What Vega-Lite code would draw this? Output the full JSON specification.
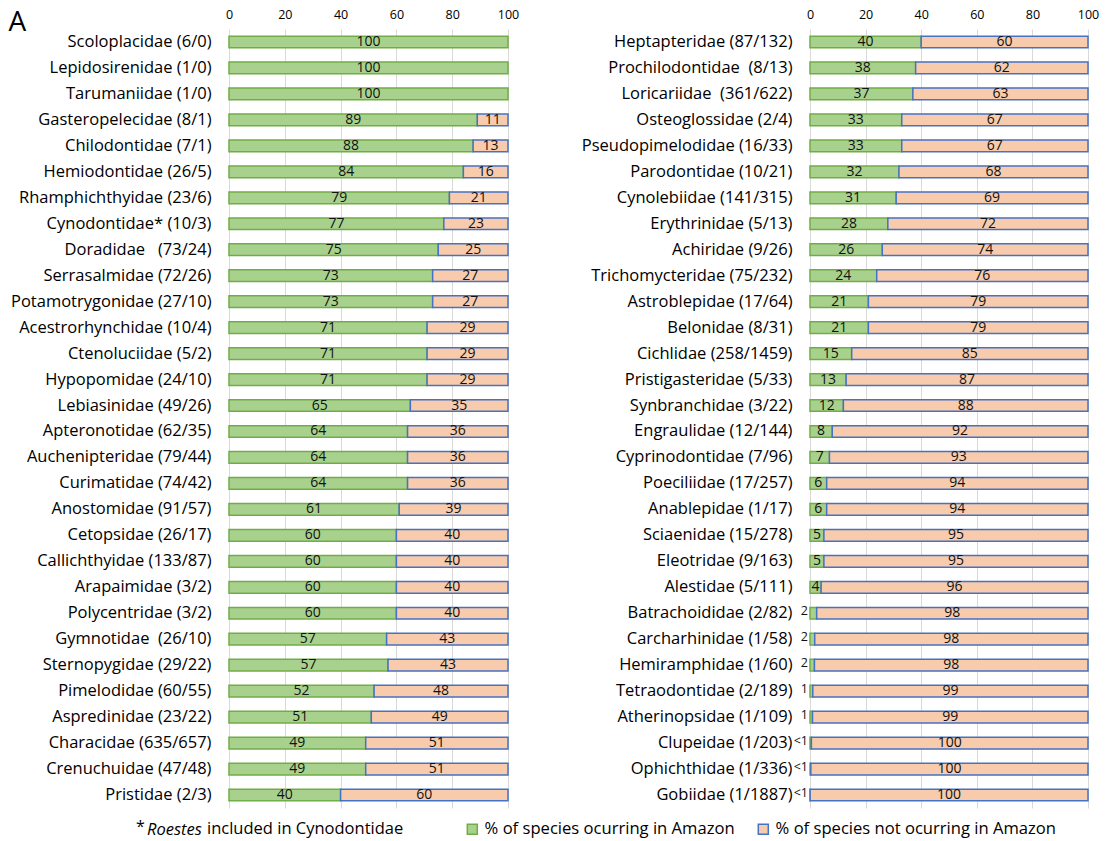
{
  "$schema": "https://vega.github.io/schema/vega-lite/v6.json",
  "padding": {"left": 8, "top": 8, "right": 10, "bottom": 5},
  "background": "white",
  "title": {"text": "Roestes", "orient": "bottom", "anchor": "start", "frame": "group", "dx": -82, "dy": -16, "offset": 0, "baseline": "top", "fontSize": 16.5, "fontStyle": "italic", "fontWeight": "normal", "color": "#000"},
  "config": {
    "font": "Open Sans",
    "view": {"stroke": null},
    "axisX": {"orient": "top", "values": [0, 20, 40, 60, 80, 100], "title": null, "domain": false, "ticks": false, "labelPadding": 8, "labelFontSize": 12.5, "labelColor": "#000", "labelFlush": false, "grid": true, "gridColor": "#d9d9d9", "gridWidth": 1},
    "axisY": {"domain": false, "ticks": false, "labelPadding": 18, "labelFontSize": 16.5, "labelColor": "#000", "labelLimit": 400, "grid": false},
    "title": {"fontWeight": "normal", "color": "#000"}
  },
  "datasets": {
    "left": [
      {"f": "Scoloplacidae (6/0)", "c": "in", "p": 100, "l": "100"},
      {"f": "Lepidosirenidae (1/0)", "c": "in", "p": 100, "l": "100"},
      {"f": "Tarumaniidae (1/0)", "c": "in", "p": 100, "l": "100"},
      {"f": "Gasteropelecidae (8/1)", "c": "in", "p": 89, "l": "89"},
      {"f": "Gasteropelecidae (8/1)", "c": "out", "p": 11, "l": "11"},
      {"f": "Chilodontidae (7/1)", "c": "in", "p": 87.5, "l": "88"},
      {"f": "Chilodontidae (7/1)", "c": "out", "p": 12.5, "l": "13"},
      {"f": "Hemiodontidae (26/5)", "c": "in", "p": 84, "l": "84"},
      {"f": "Hemiodontidae (26/5)", "c": "out", "p": 16, "l": "16"},
      {"f": "Rhamphichthyidae (23/6)", "c": "in", "p": 79, "l": "79"},
      {"f": "Rhamphichthyidae (23/6)", "c": "out", "p": 21, "l": "21"},
      {"f": "Cynodontidae* (10/3)", "c": "in", "p": 77, "l": "77"},
      {"f": "Cynodontidae* (10/3)", "c": "out", "p": 23, "l": "23"},
      {"f": "Doradidae\u00a0\u00a0\u00a0(73/24)", "c": "in", "p": 75, "l": "75"},
      {"f": "Doradidae\u00a0\u00a0\u00a0(73/24)", "c": "out", "p": 25, "l": "25"},
      {"f": "Serrasalmidae (72/26)", "c": "in", "p": 73, "l": "73"},
      {"f": "Serrasalmidae (72/26)", "c": "out", "p": 27, "l": "27"},
      {"f": "Potamotrygonidae (27/10)", "c": "in", "p": 73, "l": "73"},
      {"f": "Potamotrygonidae (27/10)", "c": "out", "p": 27, "l": "27"},
      {"f": "Acestrorhynchidae (10/4)", "c": "in", "p": 71, "l": "71"},
      {"f": "Acestrorhynchidae (10/4)", "c": "out", "p": 29, "l": "29"},
      {"f": "Ctenoluciidae (5/2)", "c": "in", "p": 71, "l": "71"},
      {"f": "Ctenoluciidae (5/2)", "c": "out", "p": 29, "l": "29"},
      {"f": "Hypopomidae (24/10)", "c": "in", "p": 71, "l": "71"},
      {"f": "Hypopomidae (24/10)", "c": "out", "p": 29, "l": "29"},
      {"f": "Lebiasinidae (49/26)", "c": "in", "p": 65, "l": "65"},
      {"f": "Lebiasinidae (49/26)", "c": "out", "p": 35, "l": "35"},
      {"f": "Apteronotidae (62/35)", "c": "in", "p": 64, "l": "64"},
      {"f": "Apteronotidae (62/35)", "c": "out", "p": 36, "l": "36"},
      {"f": "Auchenipteridae (79/44)", "c": "in", "p": 64, "l": "64"},
      {"f": "Auchenipteridae (79/44)", "c": "out", "p": 36, "l": "36"},
      {"f": "Curimatidae (74/42)", "c": "in", "p": 64, "l": "64"},
      {"f": "Curimatidae (74/42)", "c": "out", "p": 36, "l": "36"},
      {"f": "Anostomidae (91/57)", "c": "in", "p": 61, "l": "61"},
      {"f": "Anostomidae (91/57)", "c": "out", "p": 39, "l": "39"},
      {"f": "Cetopsidae (26/17)", "c": "in", "p": 60, "l": "60"},
      {"f": "Cetopsidae (26/17)", "c": "out", "p": 40, "l": "40"},
      {"f": "Callichthyidae (133/87)", "c": "in", "p": 60, "l": "60"},
      {"f": "Callichthyidae (133/87)", "c": "out", "p": 40, "l": "40"},
      {"f": "Arapaimidae (3/2)", "c": "in", "p": 60, "l": "60"},
      {"f": "Arapaimidae (3/2)", "c": "out", "p": 40, "l": "40"},
      {"f": "Polycentridae (3/2)", "c": "in", "p": 60, "l": "60"},
      {"f": "Polycentridae (3/2)", "c": "out", "p": 40, "l": "40"},
      {"f": "Gymnotidae\u00a0\u00a0(26/10)", "c": "in", "p": 56.5, "l": "57"},
      {"f": "Gymnotidae\u00a0\u00a0(26/10)", "c": "out", "p": 43.5, "l": "43"},
      {"f": "Sternopygidae (29/22)", "c": "in", "p": 57, "l": "57"},
      {"f": "Sternopygidae (29/22)", "c": "out", "p": 43, "l": "43"},
      {"f": "Pimelodidae (60/55)", "c": "in", "p": 52, "l": "52"},
      {"f": "Pimelodidae (60/55)", "c": "out", "p": 48, "l": "48"},
      {"f": "Aspredinidae (23/22)", "c": "in", "p": 51, "l": "51"},
      {"f": "Aspredinidae (23/22)", "c": "out", "p": 49, "l": "49"},
      {"f": "Characidae (635/657)", "c": "in", "p": 49, "l": "49"},
      {"f": "Characidae (635/657)", "c": "out", "p": 51, "l": "51"},
      {"f": "Crenuchuidae (47/48)", "c": "in", "p": 49, "l": "49"},
      {"f": "Crenuchuidae (47/48)", "c": "out", "p": 51, "l": "51"},
      {"f": "Pristidae (2/3)", "c": "in", "p": 40, "l": "40"},
      {"f": "Pristidae (2/3)", "c": "out", "p": 60, "l": "60"}
    ],
    "right": [
      {"f": "Heptapteridae (87/132)", "c": "in", "p": 40, "l": "40"},
      {"f": "Heptapteridae (87/132)", "c": "out", "p": 60, "l": "60"},
      {"f": "Prochilodontidae\u00a0\u00a0(8/13)", "c": "in", "p": 38, "l": "38"},
      {"f": "Prochilodontidae\u00a0\u00a0(8/13)", "c": "out", "p": 62, "l": "62"},
      {"f": "Loricariidae\u00a0\u00a0(361/622)", "c": "in", "p": 37, "l": "37"},
      {"f": "Loricariidae\u00a0\u00a0(361/622)", "c": "out", "p": 63, "l": "63"},
      {"f": "Osteoglossidae (2/4)", "c": "in", "p": 33, "l": "33"},
      {"f": "Osteoglossidae (2/4)", "c": "out", "p": 67, "l": "67"},
      {"f": "Pseudopimelodidae (16/33)", "c": "in", "p": 33, "l": "33"},
      {"f": "Pseudopimelodidae (16/33)", "c": "out", "p": 67, "l": "67"},
      {"f": "Parodontidae (10/21)", "c": "in", "p": 32, "l": "32"},
      {"f": "Parodontidae (10/21)", "c": "out", "p": 68, "l": "68"},
      {"f": "Cynolebiidae (141/315)", "c": "in", "p": 31, "l": "31"},
      {"f": "Cynolebiidae (141/315)", "c": "out", "p": 69, "l": "69"},
      {"f": "Erythrinidae (5/13)", "c": "in", "p": 28, "l": "28"},
      {"f": "Erythrinidae (5/13)", "c": "out", "p": 72, "l": "72"},
      {"f": "Achiridae (9/26)", "c": "in", "p": 26, "l": "26"},
      {"f": "Achiridae (9/26)", "c": "out", "p": 74, "l": "74"},
      {"f": "Trichomycteridae (75/232)", "c": "in", "p": 24, "l": "24"},
      {"f": "Trichomycteridae (75/232)", "c": "out", "p": 76, "l": "76"},
      {"f": "Astroblepidae (17/64)", "c": "in", "p": 21, "l": "21"},
      {"f": "Astroblepidae (17/64)", "c": "out", "p": 79, "l": "79"},
      {"f": "Belonidae (8/31)", "c": "in", "p": 21, "l": "21"},
      {"f": "Belonidae (8/31)", "c": "out", "p": 79, "l": "79"},
      {"f": "Cichlidae (258/1459)", "c": "in", "p": 15, "l": "15"},
      {"f": "Cichlidae (258/1459)", "c": "out", "p": 85, "l": "85"},
      {"f": "Pristigasteridae (5/33)", "c": "in", "p": 13, "l": "13"},
      {"f": "Pristigasteridae (5/33)", "c": "out", "p": 87, "l": "87"},
      {"f": "Synbranchidae (3/22)", "c": "in", "p": 12, "l": "12"},
      {"f": "Synbranchidae (3/22)", "c": "out", "p": 88, "l": "88"},
      {"f": "Engraulidae (12/144)", "c": "in", "p": 8, "l": "8"},
      {"f": "Engraulidae (12/144)", "c": "out", "p": 92, "l": "92"},
      {"f": "Cyprinodontidae (7/96)", "c": "in", "p": 7, "l": "7"},
      {"f": "Cyprinodontidae (7/96)", "c": "out", "p": 93, "l": "93"},
      {"f": "Poeciliidae (17/257)", "c": "in", "p": 6, "l": "6"},
      {"f": "Poeciliidae (17/257)", "c": "out", "p": 94, "l": "94"},
      {"f": "Anablepidae (1/17)", "c": "in", "p": 6, "l": "6"},
      {"f": "Anablepidae (1/17)", "c": "out", "p": 94, "l": "94"},
      {"f": "Sciaenidae (15/278)", "c": "in", "p": 5, "l": "5"},
      {"f": "Sciaenidae (15/278)", "c": "out", "p": 95, "l": "95"},
      {"f": "Eleotridae (9/163)", "c": "in", "p": 5, "l": "5"},
      {"f": "Eleotridae (9/163)", "c": "out", "p": 95, "l": "95"},
      {"f": "Alestidae (5/111)", "c": "in", "p": 4, "l": "4"},
      {"f": "Alestidae (5/111)", "c": "out", "p": 96, "l": "96"},
      {"f": "Batrachoididae (2/82)", "c": "in", "p": 2.4, "l": "2"},
      {"f": "Batrachoididae (2/82)", "c": "out", "p": 97.6, "l": "98"},
      {"f": "Carcharhinidae (1/58)", "c": "in", "p": 1.7, "l": "2"},
      {"f": "Carcharhinidae (1/58)", "c": "out", "p": 98.3, "l": "98"},
      {"f": "Hemiramphidae (1/60)", "c": "in", "p": 1.6, "l": "2"},
      {"f": "Hemiramphidae (1/60)", "c": "out", "p": 98.4, "l": "98"},
      {"f": "Tetraodontidae (2/189)", "c": "in", "p": 1, "l": "1"},
      {"f": "Tetraodontidae (2/189)", "c": "out", "p": 99, "l": "99"},
      {"f": "Atherinopsidae (1/109)", "c": "in", "p": 0.9, "l": "1"},
      {"f": "Atherinopsidae (1/109)", "c": "out", "p": 99.1, "l": "99"},
      {"f": "Clupeidae (1/203)", "c": "in", "p": 0.5, "l": "<1"},
      {"f": "Clupeidae (1/203)", "c": "out", "p": 99.5, "l": "100"},
      {"f": "Ophichthidae (1/336)", "c": "in", "p": 0.3, "l": "<1"},
      {"f": "Ophichthidae (1/336)", "c": "out", "p": 99.7, "l": "100"},
      {"f": "Gobiidae (1/1887)", "c": "in", "p": 0.05, "l": "<1"},
      {"f": "Gobiidae (1/1887)", "c": "out", "p": 99.95, "l": "100"}
    ]
  },
  "spacing": 62,
  "hconcat": [
    {
      "data": {"name": "left"},
      "width": 279,
      "height": 779,
      "title": {"text": "*", "orient": "bottom", "anchor": "start", "frame": "group", "dx": -93, "offset": 11, "baseline": "top", "fontSize": 16, "fontWeight": "normal"},
      "encoding": {
        "y": {"field": "f", "type": "nominal", "sort": null, "scale": {"paddingInner": 0.55, "paddingOuter": 0.275},
          "axis": {"title": "A", "titleAngle": 0, "titleX": -221, "titleY": 1, "titleAlign": "left", "titleBaseline": "alphabetic", "titleFontSize": 28, "titleFontWeight": "normal", "titleColor": "#000"}}
      },
      "layer": [
        {
          "mark": {"type": "bar", "strokeWidth": 1.5},
          "encoding": {
            "x": {"field": "p", "type": "quantitative", "stack": "zero", "scale": {"domain": [0, 100]}},
            "color": {"field": "c", "type": "nominal", "scale": {"domain": ["in", "out"], "range": ["#a9d18e", "#f8cbad"]},
              "legend": {"title": "included in Cynodontidae", "titleOrient": "left", "titleFontSize": 16.5, "titleFontWeight": "normal", "titleColor": "#000", "titleLimit": 500, "titlePadding": 60, "titleBaseline": "middle", "orient": "none", "legendX": -22, "legendY": 792, "direction": "horizontal", "labelFontSize": 16.6, "labelColor": "#000", "labelLimit": 500, "labelOffset": 4, "symbolType": "square", "symbolSize": 100, "symbolStrokeWidth": 1.5, "columnPadding": 20, "labelExpr": "datum.value == 'in' ? '% of species ocurring in Amazon' : '% of species not ocurring in Amazon'"}},
            "stroke": {"field": "c", "type": "nominal", "scale": {"domain": ["in", "out"], "range": ["#70ad47", "#4472c4"]},
              "legend": {"title": "included in Cynodontidae", "titleOrient": "left", "titleFontSize": 16.5, "titleFontWeight": "normal", "titleColor": "#000", "titleLimit": 500, "titlePadding": 60, "titleBaseline": "middle", "orient": "none", "legendX": -22, "legendY": 792, "direction": "horizontal", "labelFontSize": 16.6, "labelColor": "#000", "labelLimit": 500, "labelOffset": 4, "symbolType": "square", "symbolSize": 100, "symbolStrokeWidth": 1.5, "columnPadding": 20, "labelExpr": "datum.value == 'in' ? '% of species ocurring in Amazon' : '% of species not ocurring in Amazon'"}},
            "order": {"field": "c"}
          }
        },
        {
          "mark": {"type": "text", "fontSize": 14, "color": "#111"},
          "encoding": {
            "x": {"field": "p", "type": "quantitative", "stack": "zero", "bandPosition": 0.5},
            "detail": {"field": "c"},
            "order": {"field": "c"},
            "text": {"field": "l"}
          }
        }
      ]
    },
    {
      "data": {"name": "right"},
      "width": 278,
      "height": 779,
      "encoding": {
        "y": {"field": "f", "type": "nominal", "sort": null, "scale": {"paddingInner": 0.55, "paddingOuter": 0.275}, "axis": {"title": null}}
      },
      "layer": [
        {
          "mark": {"type": "bar", "strokeWidth": 1.5},
          "encoding": {
            "x": {"field": "p", "type": "quantitative", "stack": "zero", "scale": {"domain": [0, 100]}},
            "color": {"field": "c", "type": "nominal"},
            "stroke": {"field": "c", "type": "nominal"},
            "order": {"field": "c"}
          }
        },
        {
          "mark": {"type": "text", "fontSize": 14, "color": "#111"},
          "encoding": {
            "x": {"field": "p", "type": "quantitative", "stack": "zero", "bandPosition": 0.5},
            "detail": {"field": "c"},
            "order": {"field": "c"},
            "text": {"condition": {"test": "datum.c == 'in' && datum.p < 3", "value": ""}, "field": "l"}
          }
        },
        {
          "transform": [{"filter": "datum.c == 'in' && datum.p < 3"}],
          "mark": {"type": "text", "fontSize": 12.5, "color": "#111", "align": "right", "dx": -2, "dy": -2},
          "encoding": {
            "x": {"datum": 0, "type": "quantitative"},
            "text": {"field": "l"}
          }
        }
      ]
    }
  ]
}
